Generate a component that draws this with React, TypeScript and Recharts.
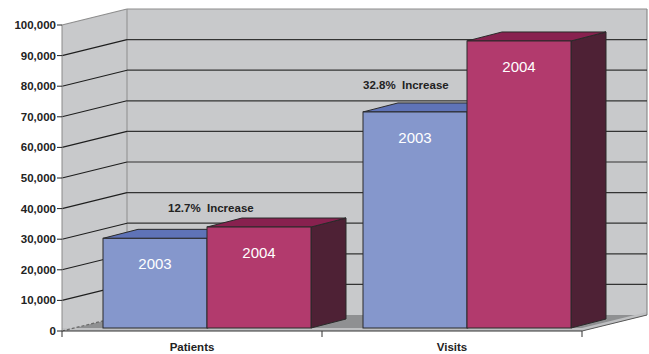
import React from 'react';
import { BarChart, Bar, XAxis, YAxis, CartesianGrid, LabelList } from 'recharts';

// ---- data ----
const categories = ['Patients', 'Visits'];
const values2003 = [29300, 70600];
const values2004 = [33000, 93800];
const increaseLabels = ['12.7%  Increase', '32.8%  Increase'];
const yTicks = [0, 10000, 20000, 30000, 40000, 50000, 60000, 70000, 80000, 90000, 100000];
const seriesNames = { y2003: '2003', y2004: '2004' };

const data = categories.map((name, i) => ({
  name,
  y2003: values2003[i],
  y2004: values2004[i],
  increase: increaseLabels[i],
}));

// ---- layout / style ----
const WIDTH = 649;
const HEIGHT = 354;
const FONT = '"Liberation Sans", Arial, Helvetica, sans-serif';
const DEPTH_X = 65; // wall depth offset
const DEPTH_Y = 16;
const SET_BACK_X = 15; // bar front face sits slightly behind the front plane
const SET_BACK_Y = 3;
const BAR_DX = 35; // bar depth
const BAR_DY = 9;
const ANNOT_OFFSETS = [
  { dx: 65, dy: -26 },
  { dx: 0, dy: -23 },
];

const WALL = '#c8c9cb';
const FLOOR = '#8f9092';
const FLOOR_EDGE = '#bfc0c2';
const EDGE = '#8d8d8d';
const OUTLINE = '#2a2a2a';

const COLORS = {
  y2003: { front: '#8597cc', top: '#5f73b7', side: '#3e4a7a' },
  y2004: { front: '#b23a6d', top: '#88214f', side: '#4e2135' },
};

const Walls = ({ left, right, top, bottom }: any) => {
  const bl = left + DEPTH_X;
  const br = right + DEPTH_X;
  const bt = top - DEPTH_Y;
  const bb = bottom - DEPTH_Y;
  return (
    <g>
      <polygon points={`${left},${top} ${bl},${bt} ${bl},${bb} ${left},${bottom}`} fill={WALL} />
      <rect x={bl} y={bt} width={br - bl} height={bb - bt} fill={WALL} />
      <polygon points={`${left},${bottom} ${bl},${bb} ${br},${bb} ${right},${bottom}`} fill={FLOOR} />
      <polygon
        points={`${left},${bottom - 3} ${right},${bottom - 3} ${br},${bb - 3} ${br},${bb} ${right},${bottom} ${left},${bottom}`}
        fill={FLOOR_EDGE}
      />
      <line x1={bl} y1={bt} x2={bl} y2={bb} stroke={EDGE} strokeWidth={1} />
      <line x1={br} y1={bt} x2={br} y2={bb} stroke={EDGE} strokeWidth={1.2} />
      <line x1={right} y1={bottom} x2={br} y2={bb} stroke="#5a5a5a" strokeWidth={1} />
    </g>
  );
};

// Each horizontal grid line becomes a diagonal on the side wall plus a line across the back wall.
const renderGridLine = (p: any) => {
  const { x1, x2, y1, index, key } = p;
  const top = p.y;
  const bottom = p.y + p.height;
  const isTop = Math.abs(y1 - top) < 0.5;
  const isBottom = Math.abs(y1 - bottom) < 0.5;
  const bx = x1 + DEPTH_X;
  const by = y1 - DEPTH_Y;
  return (
    <g key={key}>
      {index === 0 && <Walls left={x1} right={x2} top={top} bottom={bottom} />}
      {isBottom ? (
        <line x1={x1} y1={y1} x2={bx} y2={by} stroke="#6a6a6a" strokeWidth={1.2} strokeDasharray="3 2" />
      ) : (
        <>
          <line x1={x1} y1={y1} x2={bx} y2={by} stroke={isTop ? EDGE : '#1e1e1e'} strokeWidth={1.1} />
          <line x1={bx} y1={by} x2={x2 + DEPTH_X} y2={by} stroke={isTop ? EDGE : '#333333'} strokeWidth={1.2} />
        </>
      )}
    </g>
  );
};

const makeBarShape = (key: 'y2003' | 'y2004') => (props: any) => {
  const { x, y, width, height } = props;
  const c = COLORS[key];
  const fx = x + SET_BACK_X;
  const fy = y - SET_BACK_Y;
  const w = width;
  const h = height;
  return (
    <g>
      <polygon
        points={`${fx + w},${fy} ${fx + w + BAR_DX},${fy - BAR_DY} ${fx + w + BAR_DX},${fy + h - BAR_DY} ${fx + w},${fy + h}`}
        fill={c.side}
        stroke={OUTLINE}
        strokeWidth={1}
        strokeLinejoin="round"
      />
      <polygon
        points={`${fx},${fy} ${fx + BAR_DX},${fy - BAR_DY} ${fx + w + BAR_DX},${fy - BAR_DY} ${fx + w},${fy}`}
        fill={c.top}
        stroke={OUTLINE}
        strokeWidth={1}
        strokeLinejoin="round"
      />
      <rect x={fx} y={fy} width={w} height={h} fill={c.front} stroke={OUTLINE} strokeWidth={1} />
    </g>
  );
};

const boxOf = (props: any) => {
  const vb = props.viewBox && props.viewBox.width !== undefined ? props.viewBox : props;
  return { x: Number(vb.x), y: Number(vb.y), width: Number(vb.width) };
};

const makeYearLabel = (key: 'y2003' | 'y2004') => (props: any) => {
  const { x, y, width } = boxOf(props);
  return (
    <text
      x={x + SET_BACK_X + width / 2}
      y={y - SET_BACK_Y + 31}
      textAnchor="middle"
      fill="#ffffff"
      fontFamily={FONT}
      fontSize={15}
    >
      {seriesNames[key]}
    </text>
  );
};

const IncreaseLabel = (props: any) => {
  const { x, y } = boxOf(props);
  const i = props.index ?? 0;
  const off = ANNOT_OFFSETS[i];
  return (
    <text
      x={x + SET_BACK_X + off.dx}
      y={y - SET_BACK_Y + off.dy}
      fill="#222222"
      fontFamily={FONT}
      fontSize={11.5}
      fontWeight="bold"
      style={{ whiteSpace: 'pre' }}
    >
      {increaseLabels[i]}
    </text>
  );
};

const CategoryTick = (props: any) => {
  const { x, y, payload, index } = props;
  const half = (Number(props.width) || 520) / (2 * categories.length);
  return (
    <g>
      <line x1={x - half} y1={y} x2={x - half} y2={y + 6} stroke="#333" strokeWidth={1} />
      {index === categories.length - 1 && (
        <line x1={x + half} y1={y} x2={x + half} y2={y + 6} stroke="#333" strokeWidth={1} />
      )}
      <text x={x} y={y + 20} textAnchor="middle" fill="#222" fontFamily={FONT} fontSize={11.5} fontWeight="bold">
        {payload.value}
      </text>
    </g>
  );
};

export default function App() {
  return (
    <div style={{ position: 'absolute', left: 0, top: 0, width: WIDTH, height: HEIGHT, background: '#ffffff' }}>
      <BarChart
        width={WIDTH}
        height={HEIGHT}
        data={data}
        margin={{ top: 25, right: 67, bottom: 0, left: 0 }}
        barCategoryGap="10%"
        barGap={0}
      >
        <CartesianGrid horizontal={renderGridLine} vertical={false} />
        <XAxis
          dataKey="name"
          height={23}
          tickLine={false}
          tickSize={0}
          tickMargin={0}
          axisLine={{ stroke: '#333333', strokeWidth: 1.2 }}
          tick={<CategoryTick />}
          interval={0}
        />
        <YAxis
          width={62}
          domain={[0, 100000]}
          ticks={yTicks}
          interval={0}
          tickSize={5}
          tickMargin={1}
          tickLine={{ stroke: '#222222' }}
          axisLine={{ stroke: '#8a8a8a' }}
          tickFormatter={(v: number) => v.toLocaleString('en-US')}
          tick={{ fill: '#222222', fontFamily: FONT, fontSize: 11.5, fontWeight: 'bold' }}
        />
        <Bar dataKey="y2003" shape={makeBarShape('y2003')} isAnimationActive={false}>
          <LabelList dataKey="y2003" content={makeYearLabel('y2003')} />
          <LabelList dataKey="increase" content={<IncreaseLabel />} />
        </Bar>
        <Bar dataKey="y2004" shape={makeBarShape('y2004')} isAnimationActive={false}>
          <LabelList dataKey="y2004" content={makeYearLabel('y2004')} />
        </Bar>
      </BarChart>
    </div>
  );
}
